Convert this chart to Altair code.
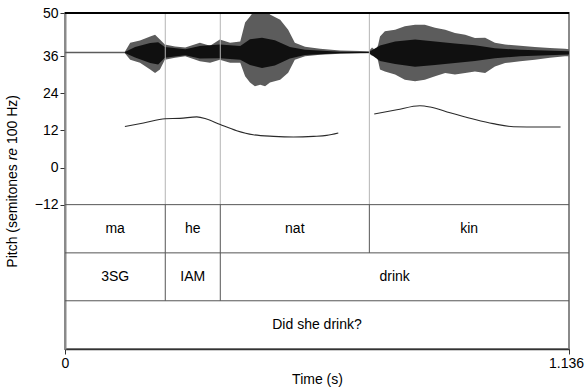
import altair as alt
import pandas as pd

FONT = "Liberation Sans"
T_END = 1.136
Y_TOP, Y_BOT = 50, -58.7

# interval-tier layout on the pitch scale (top/bottom of each tier)
tier_edges = [-12, -27.6, -43.1, -58.7]

# word / morpheme boundaries (s)
bounds_syl = [0.226, 0.350, 0.686]
bounds_gloss = [0.226, 0.350]

# tier labels: start, end, text
syl_start = [0.0, 0.226, 0.350, 0.686]
syl_end = [0.226, 0.350, 0.686, T_END]
syl_text = ["ma", "he", "nat", "kin"]

gloss_start = [0.0, 0.226, 0.350]
gloss_end = [0.226, 0.350, T_END]
gloss_text = ["3SG", "IAM", "drink"]

sent_start = [0.0]
sent_end = [T_END]
sent_text = ["Did she drink?"]

# waveform envelope (outer extent of the oscillation)
wave_t = [0.000, 0.135, 0.147, 0.169, 0.192, 0.203, 0.214, 0.225, 0.248, 0.271,
          0.304, 0.327, 0.349, 0.372, 0.395, 0.406, 0.417, 0.428, 0.440, 0.451,
          0.462, 0.485, 0.503, 0.518, 0.541, 0.575, 0.620, 0.665, 0.685, 0.692,
          0.701, 0.706, 0.710, 0.721, 0.744, 0.766, 0.789, 0.811, 0.834, 0.857,
          0.879, 0.902, 0.924, 0.947, 0.969, 0.992, 1.026, 1.059, 1.093, 1.127,
          1.136]
wave_hi = [37.5, 37.5, 40.4, 41.1, 42.4, 43.0, 41.4, 39.8, 39.2, 38.8,
           40.4, 39.4, 41.4, 40.4, 40.8, 46.9, 48.9, 51.0, 52.0, 52.0,
           49.5, 47.8, 44.6, 40.4, 39.1, 38.4, 37.9, 37.7, 37.6, 38.8,
           37.8, 39.8, 42.4, 44.1, 44.6, 45.7, 46.2, 46.2, 45.2, 44.6,
           43.5, 43.0, 41.9, 42.0, 40.4, 39.8, 39.4, 39.0, 38.7, 38.4,
           38.3]
wave_lo = [37.0, 37.0, 34.9, 33.9, 31.7, 30.6, 31.7, 34.9, 35.5, 36.0,
           34.4, 33.9, 34.9, 33.9, 33.9, 29.5, 27.5, 26.3, 26.8, 26.3,
           27.5, 28.4, 30.7, 34.9, 36.0, 36.5, 36.8, 37.0, 37.0, 36.2,
           36.8, 34.3, 31.7, 31.1, 30.1, 28.4, 27.9, 28.4, 29.5, 30.6,
           30.1, 30.6, 31.1, 30.6, 32.7, 33.8, 34.4, 34.9, 35.5, 36.0,
           36.0]

# dense dark core of the waveform
core_t = [0.135, 0.158, 0.192, 0.210, 0.225, 0.271, 0.304, 0.349, 0.395, 0.417,
          0.444, 0.473, 0.507, 0.541, 0.620, 0.685, 0.710, 0.744, 0.789, 0.834,
          0.879, 0.924, 0.969, 1.026, 1.136]
core_hi = [37.4, 39.0, 40.3, 40.5, 39.0, 38.3, 39.3, 39.8, 39.3, 41.5,
           42.0, 41.2, 39.0, 38.1, 37.5, 37.4, 39.5, 40.8, 41.4, 40.8,
           40.1, 39.6, 38.6, 38.1, 37.6]
core_lo = [37.1, 35.6, 33.8, 33.3, 35.5, 36.3, 35.3, 35.4, 34.9, 33.2,
           32.2, 33.0, 35.3, 36.4, 37.0, 37.1, 34.5, 33.5, 32.6, 33.2,
           33.8, 34.5, 35.4, 36.0, 36.6]

# pitch contours (semitones re 100 Hz)
p1_t = [0.135, 0.177, 0.226, 0.259, 0.297, 0.319, 0.350, 0.387, 0.424, 0.470,
        0.515, 0.560, 0.590, 0.616]
p1_v = [13.3, 14.4, 15.8, 15.9, 16.4, 15.7, 13.9, 11.9, 10.6, 10.1,
        9.9, 10.1, 10.4, 11.2]
p2_t = [0.697, 0.748, 0.800, 0.823, 0.868, 0.920, 0.965, 1.011, 1.071, 1.117]
p2_v = [17.3, 18.7, 20.0, 19.6, 17.7, 15.7, 14.2, 13.2, 13.1, 13.1]

y_ticks = [50, 36, 24, 12, 0, -12]
x_ticks = [0, T_END]

# ---- tables built from the lists above ----
wave = pd.DataFrame({"t": wave_t, "hi": wave_hi, "lo": wave_lo})
core = pd.DataFrame({"t": core_t, "hi": core_hi, "lo": core_lo})
pitch = pd.DataFrame({
    "t": p1_t + p2_t,
    "v": p1_v + p2_v,
    "seg": ["a"] * len(p1_t) + ["b"] * len(p2_t),
})

tiers = []
for k, (s, e, txt) in enumerate([(syl_start, syl_end, syl_text),
                                 (gloss_start, gloss_end, gloss_text),
                                 (sent_start, sent_end, sent_text)]):
    for a, b, lab in zip(s, e, txt):
        tiers.append({"start": a, "end": b, "label": lab,
                      "top": tier_edges[k], "bot": tier_edges[k + 1]})
tiers = pd.DataFrame(tiers)

hlines = pd.DataFrame({"y": tier_edges[:-1], "x0": 0.0, "x1": T_END})
vl_light = pd.DataFrame({"t": bounds_syl, "y0": tier_edges[0], "y1": Y_TOP})
vl_dark = pd.DataFrame(
    [{"t": b, "y0": tier_edges[1], "y1": tier_edges[0]} for b in bounds_syl]
    + [{"t": b, "y0": tier_edges[2], "y1": tier_edges[1]} for b in bounds_gloss]
)
frame_top = pd.DataFrame({"y": [Y_TOP], "x0": [0.0], "x1": [T_END]})

xs = alt.Scale(domain=[0, T_END], nice=False, zero=False)
ys = alt.Scale(domain=[Y_BOT, Y_TOP], nice=False, zero=False)

# identical axis definitions on every layer so they merge into one;
# the end-time label is nudged left so it stays inside the page
x_axis = alt.Axis(values=x_ticks, title="Time (s)",
                  labelExpr="format(datum.value, '.4~g')",
                  labelOffset={"condition": {"test": "datum.value > 1", "value": -3},
                               "value": 0},
                  labelFlush=False, labelOverlap=False, grid=False,
                  domainColor="#333333", domainWidth=1.5,
                  tickColor="#333333", tickSize=5, labelPadding=2,
                  titlePadding=2)
y_axis = alt.Axis(values=y_ticks, title=None, grid=False,
                  labelFlush=False, labelOverlap=False,
                  domainColor="#8a8a8a", domainWidth=2,
                  tickColor="#333333", tickSize=5, labelPadding=2)


def X(field):
    return alt.X(field, type="quantitative", scale=xs, axis=x_axis, title="Time (s)")


def Y(field):
    return alt.Y(field, type="quantitative", scale=ys, axis=y_axis, title=None)


outer = alt.Chart(wave).mark_area(color="#5c5c5c", clip=True).encode(
    x=X("t"), y=Y("hi"), y2="lo:Q",
)
inner = alt.Chart(core).mark_area(color="#101010", clip=True).encode(
    x=X("t"), y=Y("hi"), y2="lo:Q",
)
light_rules = alt.Chart(vl_light).mark_rule(color="#b4b4b4", strokeWidth=1).encode(
    x=X("t"), y=Y("y0"), y2="y1:Q",
)
dark_rules = alt.Chart(vl_dark).mark_rule(color="#555555", strokeWidth=1).encode(
    x=X("t"), y=Y("y0"), y2="y1:Q",
)
h_rules = alt.Chart(hlines).mark_rule(color="#555555", strokeWidth=1).encode(
    x=X("x0"), x2="x1:Q", y=Y("y"),
)
top_rule = alt.Chart(frame_top).mark_rule(color="black", strokeWidth=2).encode(
    x=X("x0"), x2="x1:Q", y=Y("y"),
)
pitch_line = alt.Chart(pitch).mark_line(
    color="#2a2a2a", strokeWidth=1.1, interpolate="monotone"
).encode(
    x=X("t"), y=Y("v"), detail="seg:N",
)
tier_text = alt.Chart(tiers).transform_calculate(
    mid="(datum.start + datum.end) / 2",
    ymid="(datum.top + datum.bot) / 2",
).mark_text(font=FONT, fontSize=14, color="black", baseline="middle",
            align="center").encode(
    x=X("mid"), y=Y("ymid"), text="label:N",
)

# rotated y-axis title with an italic "re"
title_row = pd.DataFrame({"k": [0]})
title_base = dict(font=FONT, fontSize=14, color="black", angle=270,
                  align="left", baseline="alphabetic")
t1 = alt.Chart(title_row).mark_text(text="Pitch (semitones", **title_base).encode(
    x=alt.value(-48), y=alt.value(254.7))
t2 = alt.Chart(title_row).mark_text(text="re", fontStyle="italic",
                                    **title_base).encode(
    x=alt.value(-48), y=alt.value(147.3))
t3 = alt.Chart(title_row).mark_text(text="100 Hz)", **title_base).encode(
    x=alt.value(-48), y=alt.value(131.0))

chart = alt.layer(
    outer, inner, light_rules, h_rules, dark_rules, pitch_line,
    top_rule, tier_text, t1, t2, t3,
).properties(
    width=504, height=336,
    padding={"left": 65, "top": 13, "right": 16, "bottom": 39},
    autosize=alt.AutoSizeParams(type="none"),
    background="white",
).configure_view(
    stroke="#8a8a8a", strokeWidth=2,
).configure_axis(
    labelFont=FONT, titleFont=FONT, labelFontSize=14, titleFontSize=14,
    labelColor="black", titleColor="black", titleFontWeight="normal",
)

chart.save("out.html", embed_options={"renderer": "svg", "actions": False})
